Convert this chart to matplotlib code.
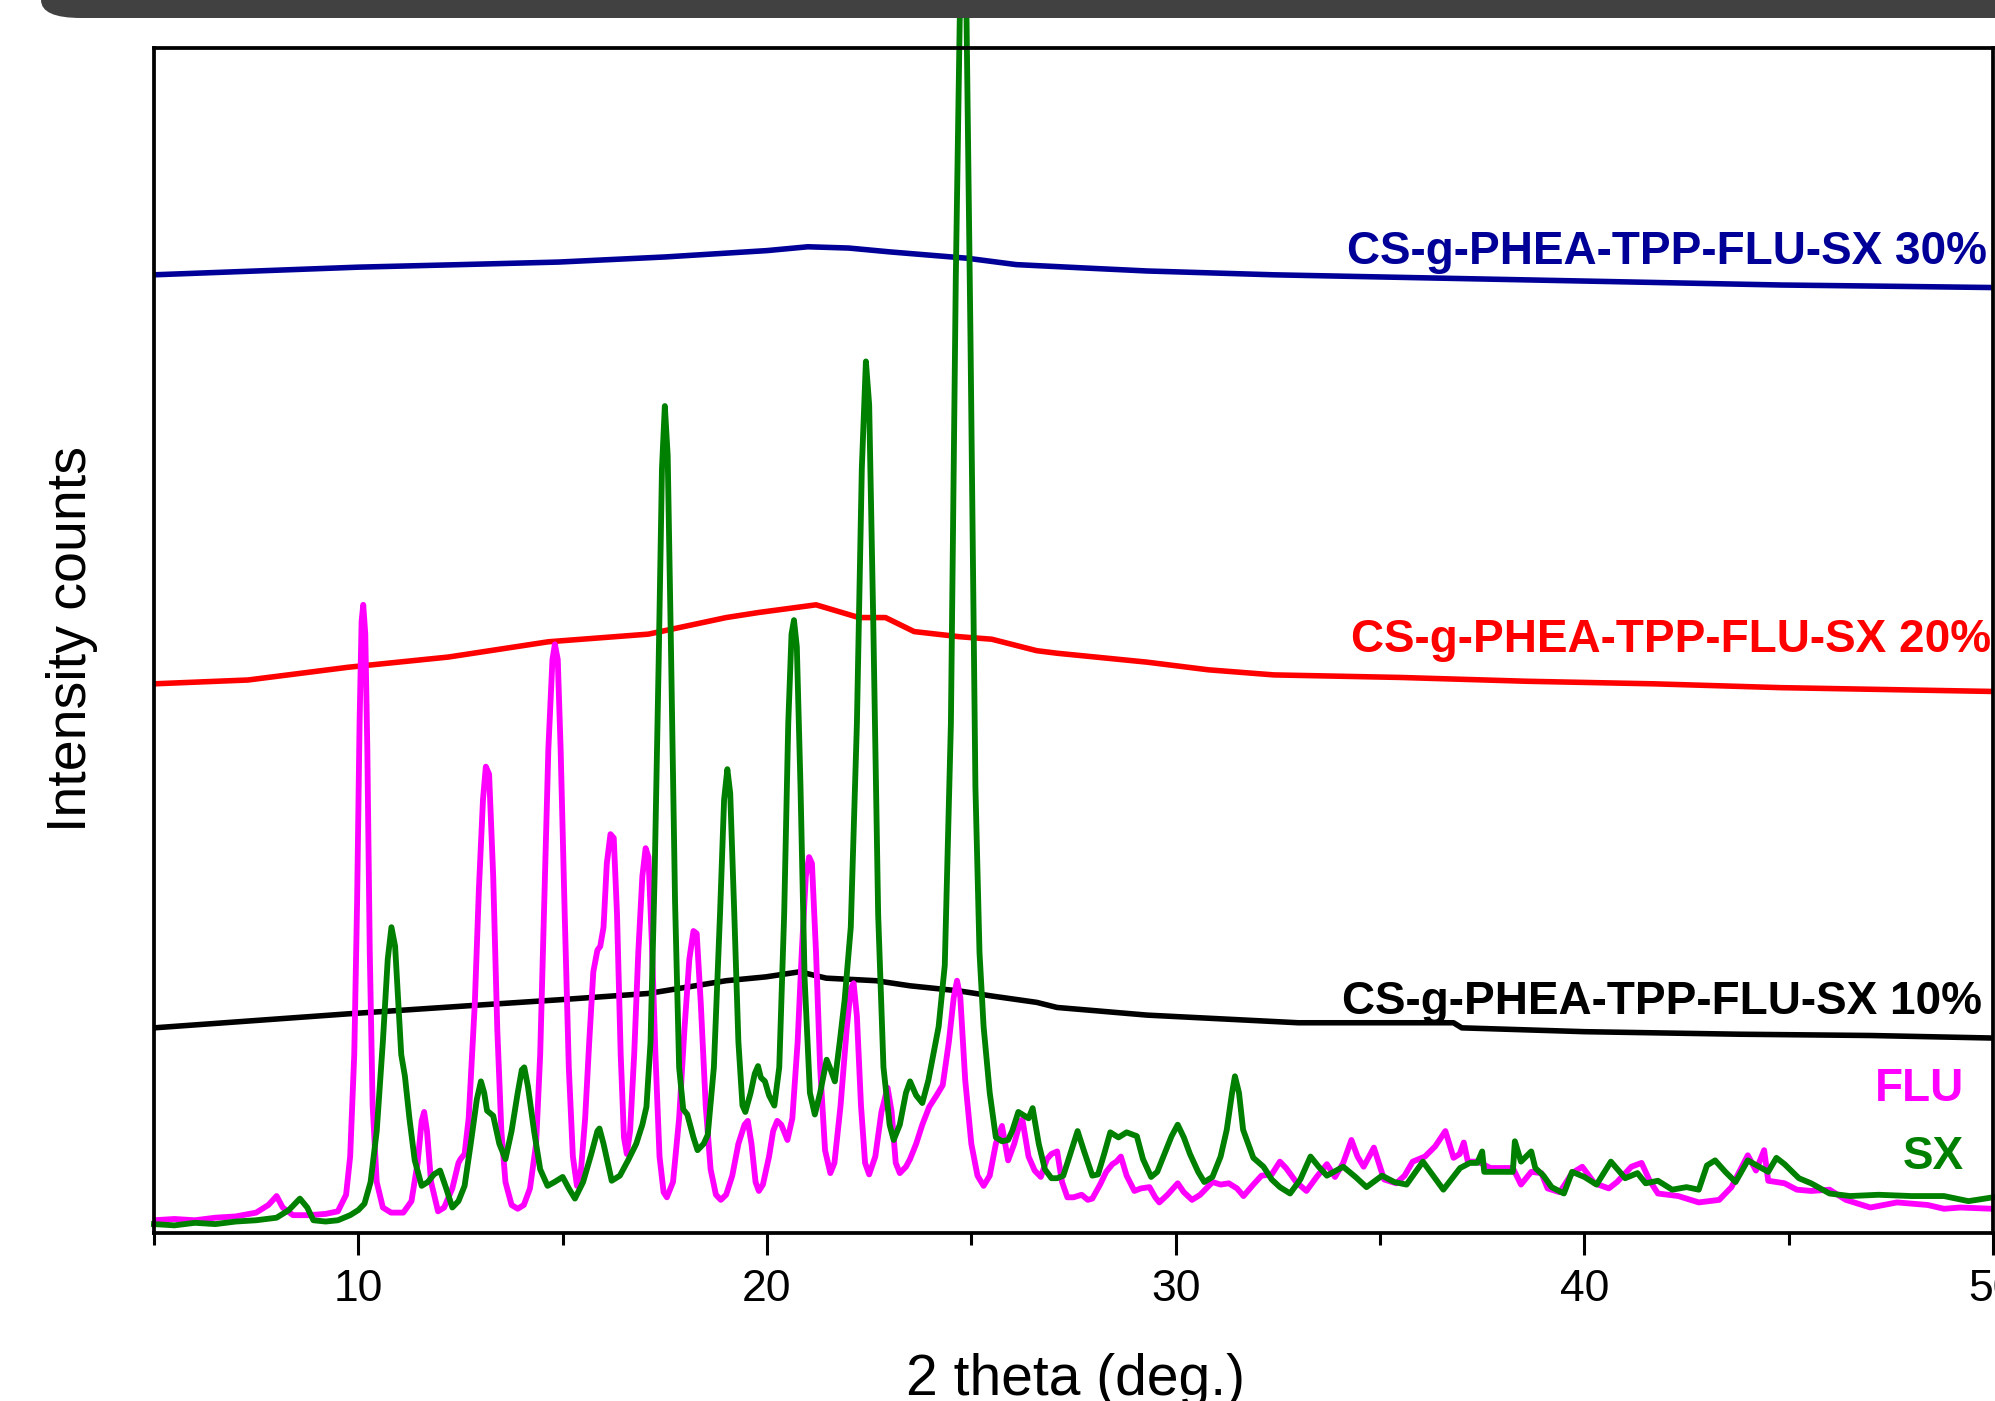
import matplotlib
matplotlib.use('Agg')
import matplotlib.pyplot as plt
from matplotlib.patches import FancyBboxPatch
from matplotlib.transforms import IdentityTransform

plt.rcParams['font.family'] = ['Liberation Sans', 'DejaVu Sans']

# amorphous samples (2 theta, intensity)
cs30_x = [5, 7.5, 10, 12.5, 14.9, 17.5, 20, 21, 22, 23, 24.9, 26.1, 28, 29.3, 32.4, 35.5, 38.6, 41.7, 44.8, 47.5, 50]
cs30_y = [752, 755, 758, 760, 762, 766, 771, 774, 773, 770, 765, 760, 757, 755, 752, 750, 748, 746, 744, 743, 742]

cs20_x = [5, 7.3, 9.75, 12.2, 14.65, 17.1, 19.0, 19.8, 21.2, 22.25, 22.9, 23.6, 24.7, 25.5, 26.6,
          27.1, 29.3, 30.8, 32.4, 35.5, 38.6, 41.7, 44.8, 50]
cs20_y = [431, 434, 444, 452, 464, 470, 483, 487, 493, 483, 483, 472, 468, 466, 457,
          455, 448, 442, 438, 436, 433, 431, 428, 425]

cs10_x = [5, 9.75, 13.0, 14.9, 17.1, 19.0, 19.97, 20.8, 21.45, 22.67, 23.5, 24.7, 25.5, 26.6,
          27.1, 29.3, 33.0, 36.8, 37.0, 40.0, 43.8, 47.0, 50]
cs10_y = [161, 172, 179, 183, 188, 198, 201, 205, 200, 198, 194, 190, 186, 181,
          177, 171, 165, 165, 161, 158, 156, 155, 153]

# FLU pattern
flu_x = [5.0, 5.5, 6.0, 6.5, 7.0, 7.5, 7.8, 8.0, 8.15, 8.4, 8.8, 9.2, 9.5, 9.7, 9.8, 9.9, 9.97,
         10.03, 10.08, 10.12, 10.17, 10.22, 10.28, 10.35, 10.45, 10.6, 10.8, 11.1, 11.3, 11.45,
         11.55, 11.61, 11.68, 11.78, 11.95, 12.1, 12.3, 12.45, 12.5, 12.6, 12.7, 12.85, 12.95,
         13.05, 13.12, 13.2, 13.3, 13.4, 13.5, 13.6, 13.75, 13.9, 14.05, 14.2, 14.35, 14.45,
         14.55, 14.65, 14.75, 14.81, 14.88, 14.95, 15.05, 15.15, 15.25, 15.35, 15.45, 15.55,
         15.65, 15.75, 15.85, 15.92, 16.0, 16.08, 16.17, 16.25, 16.33, 16.42, 16.5, 16.57,
         16.65, 16.75, 16.85, 16.95, 17.03, 17.1, 17.18, 17.27, 17.37, 17.47, 17.55, 17.7,
         17.85, 17.98, 18.1, 18.2, 18.28, 18.38, 18.5, 18.62, 18.75, 18.87, 19.0, 19.15, 19.3,
         19.45, 19.53, 19.62, 19.72, 19.8, 19.9, 20.05, 20.15, 20.25, 20.35, 20.5, 20.62, 20.75,
         20.85, 20.95, 21.03, 21.1, 21.2, 21.3, 21.42, 21.55, 21.65, 21.8, 21.95, 22.05, 22.12,
         22.2, 22.3, 22.4, 22.5, 22.65, 22.8, 22.95, 23.05, 23.15, 23.25, 23.4, 23.5, 23.65,
         23.8, 23.97, 24.15, 24.3, 24.45, 24.57, 24.65, 24.73, 24.85, 25.0, 25.15, 25.3, 25.45,
         25.6, 25.75, 25.9, 26.05, 26.2, 26.25, 26.4, 26.55, 26.7, 26.85, 26.96, 27.1, 27.22,
         27.35, 27.5, 27.7, 27.85, 27.96, 28.15, 28.3, 28.45, 28.55, 28.66, 28.8, 28.99, 29.15,
         29.36, 29.5, 29.6, 29.8, 30.05, 30.2, 30.4, 30.6, 30.9, 31.1, 31.3, 31.5, 31.66, 31.9,
         32.1, 32.35, 32.55, 32.7, 32.95, 33.2, 33.45, 33.7, 33.9, 34.1, 34.3, 34.45, 34.6,
         34.85, 35.1, 35.4, 35.6, 35.8, 36.1, 36.35, 36.6, 36.8, 36.95, 37.05, 37.15, 37.4,
         37.7, 38.25, 38.45, 38.7, 38.95, 39.1, 39.4, 39.7, 39.95, 40.25, 40.6, 40.8, 41.15,
         41.4, 41.6, 41.8, 42.3, 42.8, 43.3, 43.6, 44.0, 44.2, 44.4, 44.5, 44.9, 45.2, 45.55,
         46.0, 46.4, 47.0, 47.65, 48.4, 48.8, 49.2, 50.0]
flu_y = [10, 11, 10, 12, 13, 16, 22, 29, 20, 14, 14, 15, 17, 30, 60, 140, 260,
         400, 480, 493, 470, 380, 220, 100, 40, 20, 16, 16, 25, 55,
         88, 95, 80, 40, 17, 20, 35, 55, 58, 62, 90, 180, 270,
         340, 366, 360, 280, 160, 80, 40, 22, 19, 22, 35, 70, 140,
         260, 380, 450, 462, 450, 380, 250, 130, 60, 37, 50, 90,
         150, 205, 222, 225, 240, 290, 313, 310, 250, 140, 75, 62,
         80, 140, 220, 280, 302, 295, 230, 140, 60, 32, 28, 40,
         90, 160, 215, 237, 235, 180, 100, 50, 30, 26, 30, 45, 70,
         85, 88, 70, 40, 33, 38, 60, 80, 88, 85, 73, 90, 150,
         220, 280, 295, 290, 220, 130, 65, 47, 55, 100, 160, 192, 196,
         170, 100, 55, 46, 60, 95, 114, 95, 55, 47, 52, 58, 70,
         85, 99, 108, 116, 150, 185, 198, 185, 120, 70, 45, 37, 45,
         70, 84, 57, 70, 88, 89, 60, 49, 44, 58, 62, 64, 40,
         28, 28, 30, 26, 27, 38, 48, 54, 56, 60, 45, 33, 35,
         36, 28, 24, 30, 39, 32, 26, 30, 40, 38, 39, 35, 29, 38,
         45, 46, 56, 51, 40, 33, 44, 54, 44, 55, 73, 60, 52,
         67, 42, 39, 45, 56, 60, 68, 80, 59, 62, 71, 56, 56,
         51, 51, 38, 48, 47, 35, 32, 47, 52, 39, 35, 40, 52,
         55, 41, 31, 29, 24, 26, 36, 61, 49, 65, 41, 39, 34, 33,
         34, 26, 20, 24, 22, 19, 20, 19]

# SX pattern
sx_x = [5.0, 5.5, 6.0, 6.5, 7.0, 7.5, 8.0, 8.3, 8.57, 8.75, 8.9, 9.2, 9.5, 9.8, 10.0, 10.15,
        10.3, 10.45, 10.6, 10.72, 10.81, 10.9, 10.98, 11.05, 11.14, 11.25, 11.38, 11.55, 11.7,
        11.85, 12.0, 12.15, 12.3, 12.45, 12.6, 12.75, 12.9, 13.0, 13.08, 13.15, 13.3, 13.45,
        13.6, 13.75, 13.9, 14.0, 14.06, 14.15, 14.3, 14.45, 14.63, 14.8, 15.0, 15.15, 15.3,
        15.5, 15.7, 15.85, 15.9, 16.0, 16.2, 16.4, 16.6, 16.8, 16.95, 17.05, 17.15, 17.25,
        17.35, 17.43, 17.5, 17.57, 17.65, 17.75, 17.85, 17.95, 18.05, 18.2, 18.3, 18.45,
        18.55, 18.7, 18.85, 18.95, 19.03, 19.1, 19.2, 19.3, 19.4, 19.47, 19.6, 19.7, 19.78,
        19.85, 19.95, 20.05, 20.18, 20.3, 20.42, 20.52, 20.6, 20.66, 20.73, 20.82, 20.92,
        21.05, 21.17, 21.3, 21.46, 21.56, 21.66, 21.78, 21.9, 22.05, 22.2, 22.32, 22.42, 22.5,
        22.6, 22.72, 22.85, 23.0, 23.1, 23.25, 23.4, 23.5, 23.65, 23.8, 23.95, 24.1, 24.2,
        24.35, 24.5, 24.62, 24.72, 24.8, 24.88, 24.98, 25.1, 25.2, 25.3, 25.45, 25.6, 25.75,
        25.9, 26.0, 26.15, 26.3, 26.4, 26.5, 26.65, 26.8, 26.96, 27.1, 27.25, 27.45, 27.6,
        27.75, 27.96, 28.1, 28.25, 28.4, 28.6, 28.8, 29.05, 29.2, 29.4, 29.55, 29.7, 29.9,
        30.05, 30.2, 30.35, 30.55, 30.7, 30.9, 31.1, 31.25, 31.38, 31.45, 31.55, 31.65, 31.9,
        32.15, 32.35, 32.55, 32.8, 33.05, 33.3, 33.5, 33.7, 34.1, 34.4, 34.67, 35.05, 35.35,
        35.65, 36.05, 36.3, 36.55, 36.96, 37.2, 37.38, 37.5, 37.55, 38.25, 38.3, 38.45, 38.7,
        38.8, 39.0, 39.2, 39.5, 39.7, 40.0, 40.3, 40.65, 41.0, 41.3, 41.5, 41.8, 42.15, 42.5,
        42.8, 43.0, 43.2, 43.45, 43.7, 44.0, 44.5, 44.7, 44.9, 45.25, 45.55, 46.0, 46.5, 47.2,
        48.0, 48.8, 49.4, 50.0]
sx_y = [7, 6, 8, 7, 9, 10, 12, 18, 27, 20, 10, 9, 10, 14, 18, 23,
        40, 80, 150, 215, 240, 225, 180, 140, 123, 90, 57, 37, 40,
        46, 49, 35, 20, 25, 37, 70, 105, 119, 110, 96, 92, 70,
        58, 80, 110, 128, 130, 115, 80, 50, 37, 40, 44, 35, 27,
        40, 62, 80, 82, 70, 41, 45, 57, 70, 85, 99, 150, 280,
        450, 600, 649, 610, 460, 260, 130, 97, 93, 75, 65, 70,
        77, 130, 250, 340, 364, 345, 250, 150, 100, 95, 110, 125, 131,
        122, 119, 108, 100, 130, 250, 400, 470, 481, 460, 350, 200,
        110, 93, 110, 136, 128, 119, 150, 183, 240, 400, 600, 684, 650,
        480, 250, 130, 85, 73, 85, 110, 119, 108, 102, 120, 145, 162,
        210, 400, 750, 960, 1000, 960, 700, 350, 220, 162, 110, 75, 72,
        73, 80, 95, 92, 90, 98, 70, 50, 43, 43, 45, 65, 80,
        65, 45, 46, 62, 79, 75, 79, 76, 58, 44, 48, 60, 76,
        85, 75, 62, 48, 40, 44, 60, 81, 110, 123, 110, 81, 59,
        52, 42, 36, 31, 42, 60, 52, 45, 52, 44, 36, 45, 40,
        38, 56, 45, 34, 51, 55, 55, 64, 48, 48, 72, 56, 64,
        51, 45, 36, 31, 48, 44, 38, 56, 43, 47, 39, 41, 34, 36,
        34, 53, 57, 48, 40, 57, 48, 59, 54, 43, 39, 31, 29, 30,
        29, 29, 25, 28]

labels = ['CS-g-PHEA-TPP-FLU-SX 30%', 'CS-g-PHEA-TPP-FLU-SX 20%',
          'CS-g-PHEA-TPP-FLU-SX 10%', 'FLU', 'SX']
colors = ['#000099', '#ff0000', '#000000', '#ff00ff', '#008000']

W, H = 1995, 1401
fig = plt.figure(figsize=(W / 100, H / 100), dpi=100)
ax = fig.add_axes([154 / W, 1 - 1233 / H, (1993 - 154) / W, (1233 - 48) / H])

ax.plot(cs30_x, cs30_y, color=colors[0], lw=4.0)
ax.plot(cs20_x, cs20_y, color=colors[1], lw=4.0)
ax.plot(cs10_x, cs10_y, color=colors[2], lw=4.0)
ax.plot(flu_x, flu_y, color=colors[3], lw=4.2)
ax.plot(sx_x, sx_y, color=colors[4], lw=4.2, clip_on=False)

ax.set_xlim(5, 50)
ax.set_ylim(0, 930)
ax.set_yticks([])
ax.set_xticks([10, 20, 30, 40, 50])
ax.set_xticks([5, 15, 25, 35, 45], minor=True)
ax.tick_params(axis='x', which='major', direction='out', length=16, width=2.2,
               labelsize=32, pad=10)
ax.tick_params(axis='x', which='minor', direction='out', length=8.5, width=2.2)
for s in ax.spines.values():
    s.set_linewidth(2.7)

# axis titles, placed in axes fractions from the pixel positions of the screenshot
ax.text((1075 - 154) / 1839, -(1395 - 1233) / 1185, '2 theta (deg.)', fontsize=41,
        ha='center', va='baseline', transform=ax.transAxes, clip_on=False)
ax.text(-(154 - 98) / 1839, (1233 - 639) / 1185, 'Intensity counts', fontsize=40,
        rotation=90, ha='right', va='center', transform=ax.transAxes, clip_on=False)

# curve labels, right aligned near the right spine
label_pos = [(0.9967, 0.8173), (0.9989, 0.4899), (0.994, 0.1852), (0.9842, 0.1110), (0.9842, 0.0536)]
for text, c, (tx, ty) in zip(labels, colors, label_pos):
    ax.text(tx, ty, text, color=c, fontsize=33, fontweight='bold',
            ha='right', va='baseline', transform=ax.transAxes)

# dark bar across the top of the screenshot
bar = FancyBboxPatch((41, 1383), 2200, 60, boxstyle='round,pad=0,rounding_size=40',
                     mutation_aspect=0.45, facecolor='#414141', edgecolor='none',
                     transform=IdentityTransform(), zorder=10)
fig.add_artist(bar)

plt.savefig('out.png', dpi=100)
plt.close()
